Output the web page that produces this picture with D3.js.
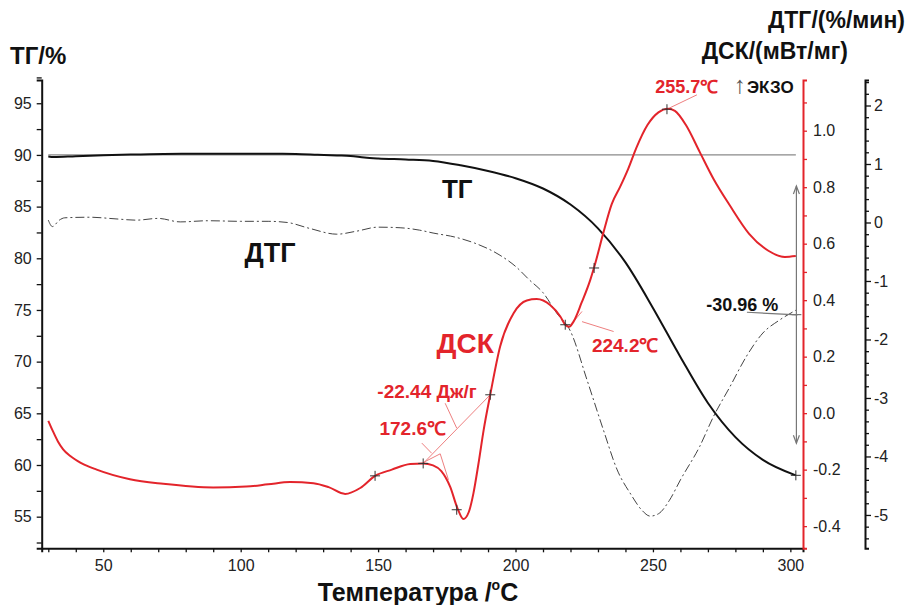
<!DOCTYPE html>
<html>
<head>
<meta charset="utf-8">
<script src="https://cdn.jsdelivr.net/npm/d3@7"></script>
<style>
  body { margin: 0; background: #fff; }
  svg { font-family: "Liberation Sans", Arial, sans-serif; }
</style>
</head>
<body>
<div id="chart"></div>
<script>
// temperature (°C) / TG (%)
var tgT = [30, 32, 40, 50, 60, 72, 90, 100, 110, 120, 128, 135, 140, 145, 150, 160, 170, 180, 190, 200, 210, 220, 230, 240, 250, 260, 270, 280, 290, 302];
var tgV = [89.85, 89.8, 89.88, 89.96, 90.04, 90.1, 90.12, 90.12, 90.11, 90.1, 90.02, 89.95, 89.9, 89.75, 89.66, 89.56, 89.42, 89.0, 88.45, 87.75, 86.75, 85.2, 82.9, 79.6, 75.2, 70.45, 66.0, 62.7, 60.5, 59.0];

// DTG (%/min)
var dtgT = [30, 31.5, 34, 36, 45, 55, 62, 70, 78, 88, 100, 110, 117, 125, 135, 142, 150, 158, 165, 170, 178, 185, 194, 200, 205, 210, 215, 220, 226, 232, 237, 242, 246, 249, 252, 256, 260, 267, 272, 278, 284, 290, 296, 302];
var dtgV = [0.04, -0.07, 0.04, 0.08, 0.09, 0.06, 0.04, 0.07, 0.01, 0.03, 0.02, 0.02, 0.0, -0.1, -0.2, -0.15, -0.08, -0.09, -0.13, -0.18, -0.25, -0.35, -0.55, -0.75, -0.98, -1.2, -1.55, -1.86, -2.69, -3.55, -4.23, -4.65, -4.92, -5.02, -4.98, -4.75, -4.4, -3.83, -3.32, -2.81, -2.29, -1.89, -1.67, -1.5];

// DSC (mW/mg)
var dscT = [30, 31.5, 33.5, 35.4, 38, 42, 47.6, 59.7, 71.8, 90, 102, 110, 118, 126.5, 132, 138, 143.5, 148.9, 155, 161.7, 166.4, 170, 173, 176.2, 179, 181, 183, 184.7, 186.5, 188.4, 190.8, 194.4, 199.3, 204.1, 207.7, 212.6, 216.3, 218.1, 219.5, 221.1, 224, 227.2, 229, 232, 235, 238, 241, 244, 248, 252, 255.5, 258, 262, 267, 272, 278, 285, 292, 298, 302];
var dscV = [-0.027, -0.06, -0.1, -0.128, -0.152, -0.177, -0.2, -0.234, -0.25, -0.263, -0.26, -0.252, -0.244, -0.248, -0.262, -0.286, -0.265, -0.222, -0.2, -0.18, -0.178, -0.185, -0.205, -0.26, -0.34, -0.375, -0.35, -0.283, -0.18, -0.06, 0.065, 0.236, 0.354, 0.399, 0.404, 0.383, 0.342, 0.313, 0.306, 0.324, 0.39, 0.472, 0.53, 0.64, 0.74, 0.8, 0.865, 0.94, 1.02, 1.065, 1.078, 1.07, 1.02, 0.925, 0.83, 0.735, 0.635, 0.575, 0.553, 0.556];

// marked points on DSC curve
var dscMarkT = [148.9, 166.4, 178.6, 190.8, 218.1, 228.6, 255.1];
var dscMarkV = [-0.222, -0.178, -0.342, 0.065, 0.313, 0.514, 1.076];

var xTicks = [50, 100, 150, 200, 250, 300];
var tgTicks = [55, 60, 65, 70, 75, 80, 85, 90, 95];
var dscTicks = [-0.4, -0.2, 0.0, 0.2, 0.4, 0.6, 0.8, 1.0];
var dtgTicks = [-5, -4, -3, -2, -1, 0, 1, 2];

var W = 908, H = 605;
var plot = { left: 41.7, right: 803, top: 80, bottom: 548.3 };
var red = '#e3242b';

var svg = d3.select('#chart').append('svg')
    .attr('width', W).attr('height', H);

var x = d3.scaleLinear().domain([27.6, 304.6]).range([plot.left, plot.right]);
var yTG = d3.scaleLinear().domain([51.94, 97.25]).range([plot.bottom, plot.top]);
var yDSC = d3.scaleLinear().domain([-0.4785, 1.1795]).range([plot.bottom, plot.top]);
var yDTG = d3.scaleLinear().domain([-5.57, 2.436]).range([plot.bottom, plot.top]);

function styleAxis(g, color) {
    g.select('.domain').attr('stroke', color).attr('stroke-width', 2);
    g.selectAll('.tick line').attr('stroke', color).attr('stroke-width', 1.3);
    g.selectAll('.tick text').attr('fill', '#222').style('font-size', '16px');
}

// bottom axis
var gx = svg.append('g').attr('transform', `translate(0,${plot.bottom})`)
    .call(d3.axisBottom(x).tickValues(d3.range(30, 301, 10)).tickSize(4).tickPadding(7)
        .tickFormat(function(d) { return xTicks.indexOf(d) >= 0 ? d : ''; }));
styleAxis(gx, '#111');

// left TG axis
var gl = svg.append('g').attr('transform', `translate(${plot.left},0)`)
    .call(d3.axisLeft(yTG).tickValues(d3.range(52.5, 97.6, 2.5)).tickSize(5).tickPadding(5)
        .tickFormat(function(d) { return tgTicks.indexOf(d) >= 0 ? d : ''; }));
styleAxis(gl, '#111');

// right DSC axis
var gr = svg.append('g').attr('transform', `translate(${plot.right},0)`)
    .call(d3.axisRight(yDSC).tickValues(d3.range(-4, 12).map(function(d) { return d / 10; })).tickSize(4).tickPadding(6)
        .tickFormat(function(d) {
            var r = Math.round(d * 10);
            return r % 2 === 0 ? d3.format('.1f')(d).replace('−', '-') : '';
        }));
styleAxis(gr, red);

// far-right DTG axis
var dtgX = 865;
var gd = svg.append('g').attr('transform', `translate(${dtgX},0)`)
    .call(d3.axisRight(yDTG).tickValues(d3.range(-27, 13).map(function(d) { return d / 5; })).tickSize(4).tickPadding(5)
        .tickFormat(function(d) {
            return Math.abs(d - Math.round(d)) < 1e-6 ? String(Math.round(d)) : '';
        }));
styleAxis(gd, '#111');
gd.selectAll('.tick line').filter(function(d) { return Math.abs(d - Math.round(d)) < 1e-6; }).attr('x2', 6);

// reference line at 90 %
svg.append('line')
    .attr('x1', x(30)).attr('x2', x(302))
    .attr('y1', yTG(90)).attr('y2', yTG(90))
    .attr('stroke', '#8a8a8a').attr('stroke-width', 1.3);

// DTG curve
svg.append('path')
    .datum(dtgT.map(function(t, i) { return [t, dtgV[i]]; }))
    .attr('d', d3.line().curve(d3.curveMonotoneX)
        .x(function(d) { return x(d[0]); }).y(function(d) { return yDTG(d[1]); }))
    .attr('fill', 'none').attr('stroke', '#444').attr('stroke-width', 1)
    .attr('stroke-dasharray', '9,3,2,3');

// TG curve
svg.append('path')
    .datum(tgT.map(function(t, i) { return [t, tgV[i]]; }))
    .attr('d', d3.line().curve(d3.curveMonotoneX)
        .x(function(d) { return x(d[0]); }).y(function(d) { return yTG(d[1]); }))
    .attr('fill', 'none').attr('stroke', '#111').attr('stroke-width', 2);

// DSC annotation lines (thin)
var thin = svg.append('g').attr('stroke', '#ee7f80').attr('stroke-width', 1).attr('fill', 'none');
function dscSeg(t1, v1, t2, v2) {
    thin.append('line').attr('x1', x(t1)).attr('y1', yDSC(v1)).attr('x2', x(t2)).attr('y2', yDSC(v2));
}
dscSeg(166.4, -0.178, 190.8, 0.065);
dscSeg(166.4, -0.175, 172.6, -0.144);
dscSeg(172.6, -0.144, 175.6, -0.236);
dscSeg(174.4, 0.035, 178.6, -0.053);
dscSeg(165.9, -0.106, 169.5, -0.142);
dscSeg(221.1, 0.324, 224.2, 0.36);
dscSeg(224.2, 0.324, 235.7, 0.289);
dscSeg(255.1, 1.076, 266, 1.127);

// DSC curve
svg.append('path')
    .datum(dscT.map(function(t, i) { return [t, dscV[i]]; }))
    .attr('d', d3.line().curve(d3.curveMonotoneX)
        .x(function(d) { return x(d[0]); }).y(function(d) { return yDSC(d[1]); }))
    .attr('fill', 'none').attr('stroke', red).attr('stroke-width', 2);

// cross markers
function cross(px, py) {
    svg.append('path')
        .attr('d', `M${px - 5},${py}H${px + 5}M${px},${py - 5}V${py + 5}`)
        .attr('stroke', '#333').attr('stroke-width', 1);
}
dscMarkT.forEach(function(t, i) { cross(x(t), yDSC(dscMarkV[i])); });
cross(x(302), yTG(59.0));

// mass loss arrow
var ag = svg.append('g').attr('stroke', '#777').attr('stroke-width', 1.2).attr('fill', 'none');
var ax = x(302.2), ay1 = yTG(87.0), ay2 = yTG(62.1);
ag.append('line').attr('x1', ax).attr('x2', ax).attr('y1', ay1).attr('y2', ay2);
ag.append('path').attr('d', `M${ax - 3},${ay1 + 8}L${ax},${ay1}L${ax + 3},${ay1 + 8}`);
ag.append('path').attr('d', `M${ax - 3},${ay2 - 8}L${ax},${ay2}L${ax + 3},${ay2 - 8}`);
ag.append('line').attr('x1', x(284.2)).attr('y1', yTG(74.78)).attr('x2', x(302.6)).attr('y2', yTG(74.52));
ag.append('line').attr('x1', x(300.5)).attr('y1', yTG(74.55)).attr('x2', x(304)).attr('y2', yTG(74.55));

// labels
function label(txt, px, py, size, color, anchor) {
    return svg.append('text').attr('x', px).attr('y', py)
        .attr('text-anchor', anchor || 'middle')
        .attr('fill', color).style('font-size', size + 'px').style('font-weight', 'bold')
        .text(txt);
}
label('ТГ', x(178.8), yTG(85.84), 26, '#111');
label('ДТГ', x(110.7), yTG(79.65), 27, '#111');
label('ДСК', x(181.7), yDSC(0.213), 28, red);
label('-22.44 Дж/г', x(167.8), yDSC(0.054), 19, red);
label('172.6℃', x(162.6), yDSC(-0.076), 19, red);
label('224.2℃', x(239.9), yDSC(0.217), 19, red);
label('255.7℃', x(262.3), yDSC(1.134), 18, red);
label('-30.96 %', x(295.6), yTG(74.9), 18, '#111', 'end');

var ek = svg.append('text').attr('x', x(279.5)).attr('y', yDSC(1.134))
    .attr('fill', '#111').style('font-size', '17px').style('font-weight', 'bold');
ek.append('tspan').text('↑').style('font-weight', 'normal').style('font-size', '24px').attr('fill', '#555');
ek.append('tspan').text('ЭКЗО').attr('dx', 1);

// axis titles
label('ТГ/%', 10, 64, 24, '#111', 'start');
label('ДТГ/(%/мин)', 905, 28, 23, '#111', 'end');
label('ДСК/(мВт/мг)', 848, 59, 23, '#111', 'end');

var xt = svg.append('text').attr('x', 418).attr('y', 601).attr('text-anchor', 'middle')
    .attr('fill', '#111').style('font-size', '25px').style('font-weight', 'bold')
    .style('font-family', '"Liberation Sans Narrow", "Liberation Sans", Arial, sans-serif');
xt.append('tspan').text('Температура /');
xt.append('tspan').text('o').style('font-size', '14px').attr('dy', -11);
xt.append('tspan').text('C').attr('dy', 11);
</script>
</body>
</html>
